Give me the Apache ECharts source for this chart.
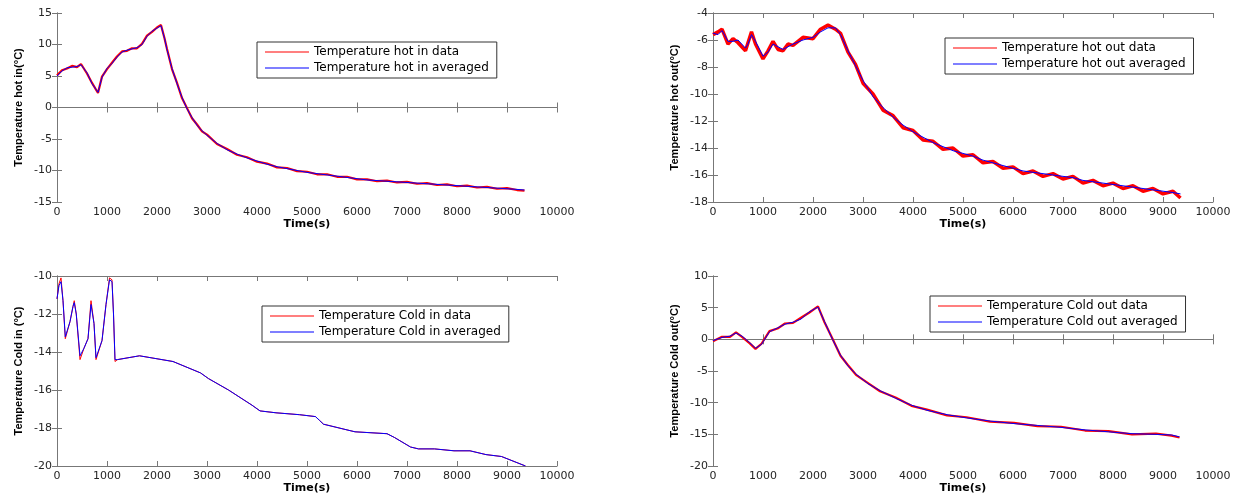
<!DOCTYPE html>
<html lang="en">
<head>
  <meta charset="UTF-8">
  <script src="https://cdn.jsdelivr.net/npm/echarts@6/dist/echarts.min.js"></script>
  <style>
    body { margin: 0; background: #fff; }
    #main { width: 1238px; height: 497px; }
  </style>
  <title>Temperature</title>
</head>
<body>
  <div id="main"></div>
  <script>
    // hot in
    const hotInT = [0,100,200,300,400,480,600,700,820,900,1000,1100,1200,1300,1400,1500,1600,1700,1800,1900,2000,2080,2150,2200,2300,2400,2500,2600,2700,2800,2900,3000,3200,3400,3600,3800,4000,4200,4400,4600,4800,5000,5200,5400,5600,5800,6000,6200,6400,6600,6800,7000,7200,7400,7600,7800,8000,8200,8400,8600,8800,9000,9200,9350];
    const hotInAvg = [5.0,5.8,6.3,6.4,6.5,6.8,5.5,3.8,2.4,4.8, 6.2,7.0,8.0,8.8,9.1, 9.3,9.5,10.0,11.3,12.1, 12.6,13.0,11.0,9.2,6.2, 3.8,1.6,-0.2,-1.6,-2.8, -3.7,-4.4,-5.7,-6.7,-7.4, -8.0,-8.5,-9.0,-9.4,-9.7, -10.0,-10.3,-10.5,-10.7,-10.9, -11.1,-11.3,-11.5,-11.6,-11.7, -11.8,-11.9,-12.0,-12.1,-12.2, -12.3,-12.4,-12.5,-12.6,-12.7, -12.8,-12.9,-13.0,-13.1];
    const hotInData = [5.1,5.9,6.2,6.6,6.4,6.9,5.4,3.9,2.3,4.9, 6.1,7.1,8.1,8.9,9.0, 9.4,9.4,10.1,11.4,12.0, 12.7,13.1,11.0,9.3,6.1, 3.9,1.5,-0.1,-1.7,-2.7, -3.8,-4.3,-5.8,-6.6,-7.5, -7.9,-8.6,-8.9,-9.5,-9.6, -10.1,-10.2,-10.6,-10.6,-11.0, -11.0,-11.4,-11.4,-11.7,-11.6, -11.9,-11.8,-12.1,-12.0,-12.3, -12.2,-12.5,-12.4,-12.7,-12.6, -12.9,-12.8,-13.1,-13.2];

    // hot out
    const hotOutT = [0,100,180,300,400,500,650,700,770,850,1000,1100,1200,1300,1400,1500,1600,1800,2000,2150,2300,2450,2550,2700,2850,3000,3200,3400,3600,3800,4000,4200,4400,4600,4800,5000,5200,5400,5600,5800,6000,6200,6400,6600,6800,7000,7200,7400,7600,7800,8000,8200,8400,8600,8800,9000,9200,9350];
    const hotOutAvg = [-5.5,-5.6,-5.3,-6.1,-6.1,-6.0,-6.6,-6.3,-5.6,-6.1, -7.2,-6.9,-6.3,-6.5,-6.7,-6.5,-6.3, -6.0,-5.8,-5.4,-5.1,-5.1, -5.6,-6.8,-7.9,-9.0, -10.2,-11.0,-11.7,-12.3,-12.8,-13.2,-13.6,-13.9,-14.2,-14.4,-14.6,-14.9,-15.1,-15.3,-15.5,-15.7,-15.8,-15.9,-16.0,-16.1,-16.2,-16.4,-16.5,-16.6,-16.7,-16.8,-16.9,-17.0,-17.1,-17.2,-17.3, -17.4];
    const hotOutData = [-5.6,-5.4,-5.2,-6.3,-5.9,-6.2,-6.8,-6.2,-5.4,-6.3, -7.4,-6.8,-6.1,-6.7,-6.8,-6.3,-6.4, -5.8,-5.9,-5.2,-4.9,-5.2, -5.5,-6.9,-7.8,-9.2, -10.0,-11.2,-11.6,-12.5,-12.7,-13.4,-13.5,-14.1,-14.0,-14.6,-14.5,-15.1,-15.0,-15.5,-15.4,-15.9,-15.7,-16.1,-15.9,-16.3,-16.1,-16.6,-16.4,-16.8,-16.6,-17.0,-16.8,-17.2,-17.0,-17.4,-17.2, -17.7];

    // cold in
    const coldInT = [0,40,80,120,166,260,320,345,385,460,540,620,680,740,780,900,980,1050,1100,1130,1160,1210,1650,2320,2870,3030,3430,3900,4060,4380,4850,5170,5250,5330,5800,5960,6600,6750,7070,7230,7550,7940,8260,8580,8890,9370];
    const coldInAvg = [-11.2,-10.5,-10.3,-11.3,-13.2,-12.4,-11.6,-11.4,-12.0,-14.2, -13.8,-13.3,-11.5,-12.5,-14.3,-13.4,-11.5,-10.2,-10.3, -12.0,-14.4,-14.4,-14.2, -14.5,-15.1,-15.4,-16.0,-16.8, -17.1,-17.2,-17.3,-17.4,-17.6, -17.8,-18.1,-18.2,-18.3,-18.5, -19.0,-19.1,-19.1,-19.2,-19.2, -19.4,-19.5,-20.0];
    const coldInData = [-11.2,-10.4,-10.1,-11.3,-13.3,-12.4,-11.6,-11.3,-12.0,-14.4, -13.8,-13.3,-11.3,-12.5,-14.4,-13.4,-11.5,-10.1,-10.2, -12.0,-14.5,-14.4,-14.2, -14.5,-15.1,-15.4,-16.0,-16.8, -17.1,-17.2,-17.3,-17.4,-17.6, -17.8,-18.1,-18.2,-18.3,-18.5, -19.0,-19.1,-19.1,-19.2,-19.2, -19.4,-19.5,-20.0];

    // cold out
    const coldOutT = [0,180,340,460,580,730,850,970,1130,1290,1440,1600,1760,1920,2100,2230,2390,2550,2700,2860,3100,3340,3650,3970,4280,4680,5070,5540,6020,6490,6960,7440,7910,8380,8860,9170,9330];
    const coldOutAvg = [-0.2,0.3,0.5,1.0,0.5,-0.5,-1.4,-0.8, 1.2,1.8,2.4,2.7,3.2,4.3,5.1, 2.8,0.0,-2.5,-4.2,-5.5, -7.0,-8.1,-9.3,-10.4,-11.2, -11.9,-12.4,-12.9,-13.3,-13.6, -13.9,-14.3,-14.6,-14.9,-15.0, -15.1,-15.4];
    const coldOutData = [-0.3,0.4,0.4,1.1,0.4,-0.6,-1.5,-0.7, 1.3,1.7,2.5,2.6,3.4,4.2,5.2, 2.7,0.1,-2.6,-4.1,-5.6, -6.9,-8.2,-9.2,-10.5,-11.1, -12.0,-12.3,-13.0,-13.2,-13.7, -13.8,-14.4,-14.5,-15.0,-14.9, -15.2,-15.5];

    const xTicks = { min: 0, max: 10000, interval: 1000 };

    const panels = [
      { t: hotInT, data: hotInData, avg: hotInAvg, names: ['Temperature hot in data', 'Temperature hot in averaged'],
        yName: 'Temperature hot in(°C)', yMin: -15, yMax: 15, yStep: 5, redWidth: 2.2,
        grid: { left: 57, top: 13, width: 500, height: 189 }, legend: { left: 257, top: 42 } },
      { t: hotOutT, data: hotOutData, avg: hotOutAvg, names: ['Temperature hot out data', 'Temperature hot out averaged'],
        yName: 'Temperature hot out(°C)', yMin: -18, yMax: -4, yStep: 2, redWidth: 3.5,
        grid: { left: 713, top: 13, width: 500, height: 189 }, legend: { left: 945, top: 38 } },
      { t: coldInT, data: coldInData, avg: coldInAvg, names: ['Temperature Cold in data', 'Temperature Cold in averaged'],
        yName: 'Temperature Cold in (°C)', yMin: -20, yMax: -10, yStep: 2, redWidth: 1,
        grid: { left: 57, top: 276, width: 500, height: 190 }, legend: { left: 262, top: 306 } },
      { t: coldOutT, data: coldOutData, avg: coldOutAvg, names: ['Temperature Cold out data', 'Temperature Cold out averaged'],
        yName: 'Temperature Cold out(°C)', yMin: -20, yMax: 10, yStep: 5, redWidth: 2.2,
        grid: { left: 713, top: 276, width: 500, height: 190 }, legend: { left: 930, top: 296 } }
    ];

    const lineCol = '#777';
    const tickFont = { fontFamily: 'DejaVu Sans', fontSize: 11, color: '#262626' };

    var grid = [], xAxis = [], yAxis = [], series = [], legend = [];
    panels.forEach((p, i) => {
      grid.push(p.grid);
      // bottom / left axes with labels
      xAxis.push({
        type: 'value', gridIndex: i, min: xTicks.min, max: xTicks.max, interval: xTicks.interval,
        name: 'Time(s)', nameLocation: 'middle', nameGap: 16,
        nameTextStyle: { fontFamily: 'DejaVu Sans', fontWeight: 'bold', fontSize: 11, color: '#000' },
        axisLine: { lineStyle: { color: lineCol } },
        axisTick: { inside: true, length: 5, lineStyle: { color: lineCol } },
        axisLabel: Object.assign({ margin: 5, formatter: v => String(v) }, tickFont),
        splitLine: { show: false }
      });
      yAxis.push({
        type: 'value', gridIndex: i, min: p.yMin, max: p.yMax, interval: p.yStep,
        name: p.yName, nameLocation: 'middle', nameGap: 33,
        nameTextStyle: { fontFamily: 'Liberation Sans', fontWeight: 'bold', fontSize: 11, color: '#000' },
        axisLine: { show: true, lineStyle: { color: lineCol } },
        axisTick: { show: true, inside: true, length: 5, lineStyle: { color: lineCol } },
        axisLabel: Object.assign({ margin: 5 }, tickFont),
        splitLine: { show: false }
      });
      legend.push({
        data: p.names, left: p.legend.left, top: p.legend.top, orient: 'vertical',
        icon: 'rect', itemWidth: 44, itemHeight: 1, itemGap: 2, padding: [3, 8, 3, 8],
        borderColor: '#333', borderWidth: 1, backgroundColor: '#fff',
        textStyle: { fontFamily: 'DejaVu Sans', fontSize: 12, color: '#000', lineHeight: 14 }
      });
      series.push({
        name: p.names[0], type: 'line', xAxisIndex: i, yAxisIndex: i,
        symbol: 'none', color: '#ff0000', lineStyle: { width: p.redWidth, color: '#ff0000' },
        data: p.t.map((t, k) => [t, p.data[k]])
      });
      series.push({
        name: p.names[1], type: 'line', xAxisIndex: i, yAxisIndex: i,
        symbol: 'none', color: '#0000ff', lineStyle: { width: 1, color: '#0000ff' },
        data: p.t.map((t, k) => [t, p.avg[k]])
      });
    });
    // top / right axes: box and inner ticks only
    panels.forEach((p, i) => {
      xAxis.push({
        type: 'value', gridIndex: i, position: 'top', min: xTicks.min, max: xTicks.max, interval: xTicks.interval,
        axisLine: { lineStyle: { color: lineCol } },
        axisTick: { inside: true, length: 5, lineStyle: { color: lineCol } },
        axisLabel: { show: false }, splitLine: { show: false }
      });
      yAxis.push({
        type: 'value', gridIndex: i, position: 'right', min: p.yMin, max: p.yMax, interval: p.yStep,
        axisLine: { show: true, lineStyle: { color: lineCol } },
        axisTick: { show: true, inside: true, length: 5, lineStyle: { color: lineCol } },
        axisLabel: { show: false }, splitLine: { show: false }
      });
    });

    var myChart = echarts.init(document.getElementById('main'));
    myChart.setOption({
      animation: false,
      backgroundColor: '#fff',
      grid, xAxis, yAxis, legend, series
    });
  </script>
</body>
</html>
